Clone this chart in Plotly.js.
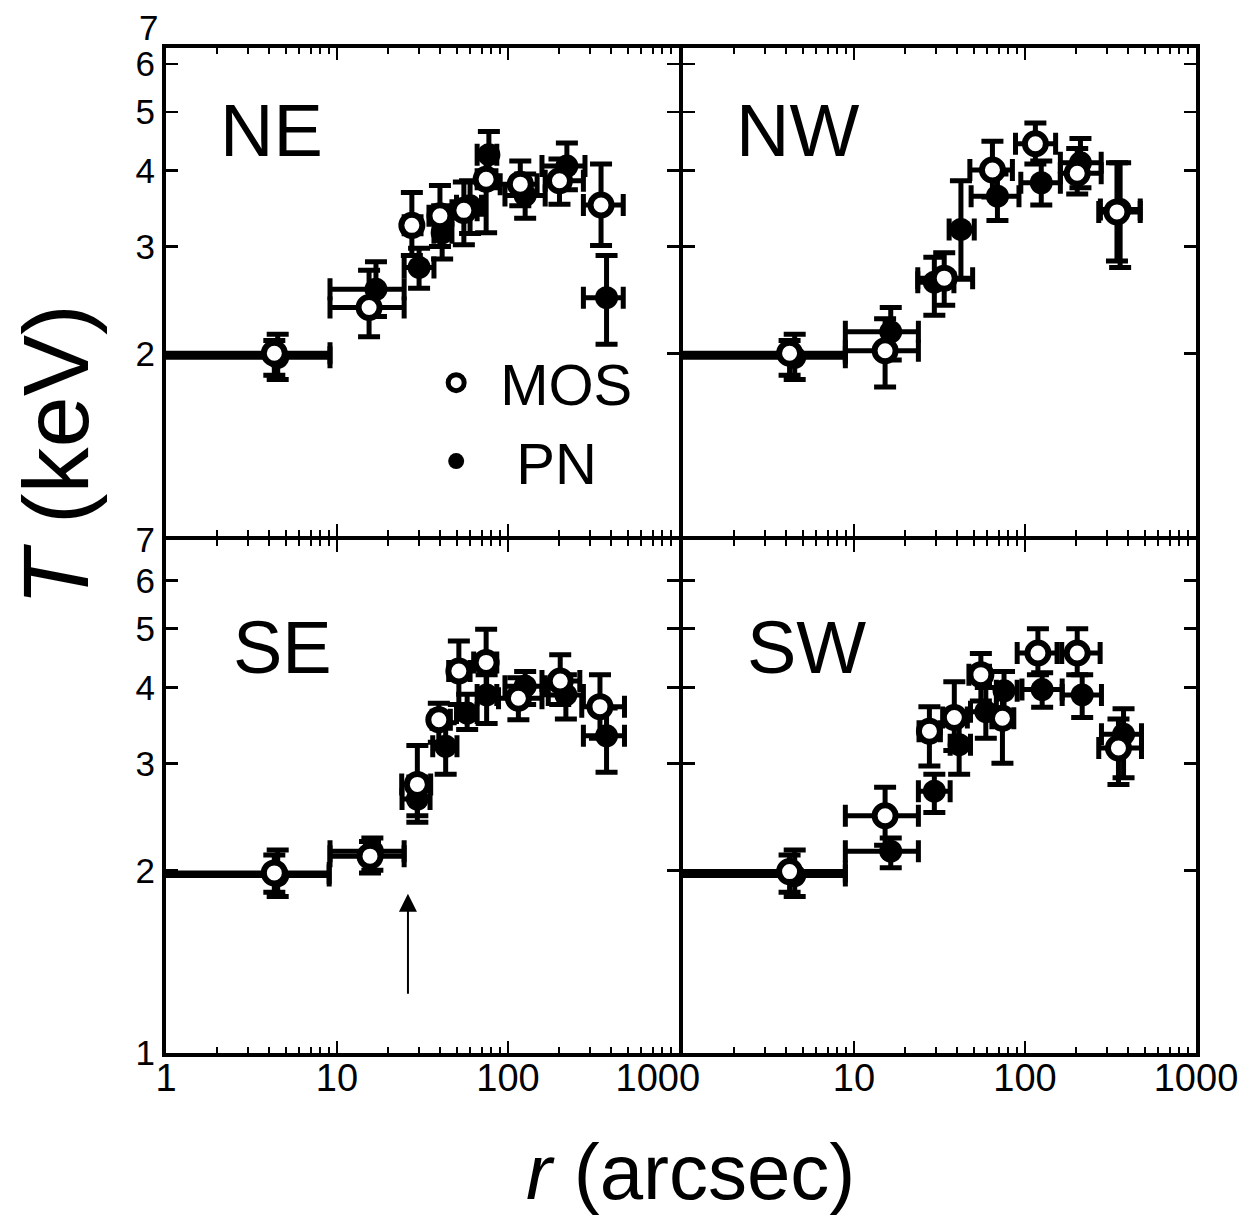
<!DOCTYPE html>
<html>
<head>
<meta charset="utf-8">
<script src="https://cdn.plot.ly/plotly-3.0.1.min.js"></script>
<style>html,body{margin:0;padding:0;background:#fff;}</style>
</head>
<body>
<div id="chart" style="width:1245px;height:1216px;"></div>
<script>
// ---------- DATA (r in arcsec, T in keV; bounds for error bars) ----------
// NE
const NE_mos_r   = [4.3, 15.4, 27.4, 40, 55.2, 74.5, 118, 200, 350];
const NE_mos_T   = [2.00, 2.38, 3.25, 3.37, 3.44, 3.87, 3.80, 3.85, 3.51];
const NE_mos_Tlo = [1.84, 2.13, 2.90, 3.00, 3.02, 3.16, 3.50, 3.52, 3.01];
const NE_mos_Thi = [2.10, 2.74, 3.68, 3.78, 3.83, 4.30, 4.15, 4.18, 4.10];
const NE_mos_rlo = [0, 9.1, 24.7, 34.5, 47, 66, 90, 165, 276];
const NE_mos_rhi = [9.1, 24.7, 31, 47, 66, 85, 148, 276, 472];
const NE_pn_r    = [4.5, 16.9, 30.2, 41.2, 60, 77.3, 126, 221, 377];
const NE_pn_T    = [1.97, 2.55, 2.77, 3.16, 3.50, 4.25, 3.64, 4.07, 2.47];
const NE_pn_Tlo  = [1.81, 2.30, 2.56, 2.86, 3.15, 3.85, 3.34, 3.72, 2.07];
const NE_pn_Thi  = [2.15, 2.83, 2.98, 3.50, 3.85, 4.64, 3.95, 4.44, 2.90];
const NE_pn_rlo  = [0, 9.1, 24.7, 36.9, 50, 66, 96, 158, 276];
const NE_pn_rhi  = [9.1, 24.7, 36.9, 47, 70, 86, 165, 282, 472];
// NW
const NW_mos_r   = [4.2, 15.2, 33.7, 64.5, 115, 202, 345];
const NW_mos_T   = [2.00, 2.02, 2.66, 4.01, 4.43, 3.96, 3.42];
const NW_mos_Tlo = [1.84, 1.76, 2.40, 3.62, 4.10, 3.66, 2.84];
const NW_mos_Thi = [2.10, 2.28, 2.93, 4.47, 4.79, 4.35, 4.12];
const NW_mos_rlo = [0, 8.9, 23.6, 47.6, 88, 161, 270];
const NW_mos_rhi = [8.9, 23.8, 49.4, 84.4, 151, 279, 472];
const NW_pn_r    = [4.5, 16.4, 29.5, 42.2, 69, 124.5, 211, 360];
const NW_pn_T    = [1.97, 2.17, 2.62, 3.20, 3.63, 3.82, 4.12, 3.45];
const NW_pn_Tlo  = [1.81, 1.95, 2.31, 2.65, 3.31, 3.51, 3.75, 2.77];
const NW_pn_Thi  = [2.15, 2.38, 2.88, 3.85, 3.95, 4.15, 4.52, 4.12];
const NW_pn_rlo  = [0, 8.9, 23.6, 36, 48.4, 94.5, 161, 276];
const NW_pn_rhi  = [8.9, 23.8, 38.4, 50.5, 92.2, 161, 279, 472];
// SE
const SE_mos_r   = [4.3, 15.6, 29.5, 39.4, 51.6, 74.5, 115, 202, 345];
const SE_mos_T   = [1.98, 2.11, 2.77, 3.54, 4.26, 4.40, 3.84, 4.10, 3.72];
const SE_mos_Tlo = [1.84, 1.98, 2.46, 3.25, 3.75, 3.90, 3.54, 3.75, 3.30];
const SE_mos_Thi = [2.12, 2.23, 3.21, 3.77, 4.77, 4.99, 4.15, 4.53, 4.20];
const SE_mos_rlo = [0, 9.1, 23.9, 36, 45, 63, 88, 158, 270];
const SE_mos_rhi = [9.0, 24.7, 35.3, 46, 60, 86, 158, 263, 480];
const SE_pn_r    = [4.5, 16.1, 29.5, 43.2, 57.7, 75, 126, 218, 377];
const SE_pn_T    = [1.96, 2.15, 2.62, 3.20, 3.63, 3.89, 4.02, 3.89, 3.33];
const SE_pn_Tlo  = [1.81, 2.00, 2.40, 2.88, 3.41, 3.49, 3.75, 3.55, 2.90];
const SE_pn_Thi  = [2.16, 2.26, 2.85, 3.50, 3.90, 4.20, 4.25, 4.20, 3.70];
const SE_pn_rlo  = [0, 9.1, 24, 36.3, 50, 66, 96, 172, 276];
const SE_pn_rhi  = [9.0, 24.7, 35, 50.3, 66, 86, 165, 276, 480];
// SW
const SW_mos_r   = [4.2, 15.2, 27.6, 38.6, 55.2, 73.8, 119, 202, 352];
const SW_mos_T   = [1.99, 2.46, 3.39, 3.57, 4.20, 3.56, 4.56, 4.56, 3.18];
const SW_mos_Tlo = [1.84, 2.20, 2.97, 3.15, 3.80, 3.00, 4.20, 4.20, 2.77];
const SW_mos_Thi = [2.12, 2.74, 3.72, 4.09, 4.55, 4.00, 5.00, 5.00, 3.55];
const SW_mos_rlo = [0, 8.9, 24, 33, 47, 64, 90, 164, 270];
const SW_mos_rhi = [8.9, 23.8, 32, 46, 62, 86, 154, 275, 480];
const SW_pn_r    = [4.5, 16.4, 29.5, 41.2, 59, 75.4, 126, 216, 377];
const SW_pn_T    = [1.96, 2.15, 2.70, 3.22, 3.65, 3.95, 3.97, 3.89, 3.35];
const SW_pn_Tlo  = [1.81, 2.02, 2.49, 2.88, 3.30, 3.65, 3.71, 3.57, 2.84];
const SW_pn_Thi  = [2.16, 2.26, 2.88, 3.55, 4.00, 4.25, 4.23, 4.20, 3.69];
const SW_pn_rlo  = [0, 8.9, 23.8, 36.5, 48, 68, 96, 165, 280];
const SW_pn_rhi  = [8.9, 23.8, 36.5, 48, 68, 90, 165, 280, 480];

const panelLabels = ['NE', 'NW', 'SE', 'SW'];
const seriesNames = ['MOS', 'PN'];
const xTickVals = [1, 10, 100, 1000];
const yTickVals = [1, 2, 3, 4, 5, 6, 7];
const arrowR = 26;            // arcsec, SE panel marker
const arrowT = [1.245, 1.83]; // keV, tail and head

// ---------- BUILD ----------
const sub = (a, b) => a.map((v, i) => v - b[i]);
const FONT = 'Liberation Sans, Arial, Helvetica, sans-serif';

function trace(r, T, Tlo, Thi, rlo, rhi, isMos, xa, ya, showlegend) {
  return {
    type: 'scatter', mode: 'markers', x: r, y: T, xaxis: xa, yaxis: ya,
    name: isMos ? seriesNames[0] : ' ' + seriesNames[1],
    legendrank: isMos ? 1 : 2,
    showlegend: showlegend, cliponaxis: true,
    marker: isMos
      ? {symbol: 'circle', size: 21, color: 'white', line: {color: 'black', width: 6}}
      : {symbol: 'circle', size: 23, color: 'black', line: {color: 'black', width: 0}},
    error_y: {type: 'data', symmetric: false, array: sub(Thi, T), arrayminus: sub(T, Tlo),
              color: 'black', thickness: 5, width: 11},
    error_x: {type: 'data', symmetric: false, array: sub(rhi, r), arrayminus: sub(r, rlo),
              color: 'black', thickness: 5, width: 11},
    hoverinfo: 'x+y'
  };
}

const data = [
  trace(NE_pn_r, NE_pn_T, NE_pn_Tlo, NE_pn_Thi, NE_pn_rlo, NE_pn_rhi, false, 'x3', 'y3', true),
  trace(NE_mos_r, NE_mos_T, NE_mos_Tlo, NE_mos_Thi, NE_mos_rlo, NE_mos_rhi, true, 'x3', 'y3', true),
  trace(NW_pn_r, NW_pn_T, NW_pn_Tlo, NW_pn_Thi, NW_pn_rlo, NW_pn_rhi, false, 'x4', 'y4', false),
  trace(NW_mos_r, NW_mos_T, NW_mos_Tlo, NW_mos_Thi, NW_mos_rlo, NW_mos_rhi, true, 'x4', 'y4', false),
  trace(SE_pn_r, SE_pn_T, SE_pn_Tlo, SE_pn_Thi, SE_pn_rlo, SE_pn_rhi, false, 'x', 'y', false),
  trace(SE_mos_r, SE_mos_T, SE_mos_Tlo, SE_mos_Thi, SE_mos_rlo, SE_mos_rhi, true, 'x', 'y', false),
  trace(SW_pn_r, SW_pn_T, SW_pn_Tlo, SW_pn_Thi, SW_pn_rlo, SW_pn_rhi, false, 'x2', 'y2', false),
  trace(SW_mos_r, SW_mos_T, SW_mos_Tlo, SW_mos_Thi, SW_mos_rlo, SW_mos_rhi, true, 'x2', 'y2', false)
];

const minorVals = [];
[1, 10, 100].forEach(d => { for (let k = 2; k <= 9; k++) minorVals.push(k * d); });

// plot area 1030 x 1005 px; panels share a 4px frame line
const PW = 1030, PH = 1005, LW = 4;
const xLeft = [0, (515 - LW / 2) / PW], xRight = [(515 + LW / 2) / PW, 1];
const yBottom = [0, (515 - LW / 2) / PH], yTop = [(515 + LW / 2) / PH, 1];
const yRangeBottom = [0, Math.log10(7)];
const yRangeTop = [0, 0.8041];

function xAxis(domain, anchor, labels, labelVals, labelText) {
  return {
    type: 'log', domain: domain, anchor: anchor, range: [0, 3],
    showline: true, linewidth: LW, linecolor: 'black', mirror: 'allticks',
    showgrid: false, zeroline: false,
    ticks: 'inside', ticklen: 12, tickwidth: 2.5, tickcolor: 'black',
    tickmode: 'array', tickvals: labelVals, ticktext: labelText || labelVals.map(String),
    showticklabels: labels, ticklabelstandoff: -12,
    tickfont: {family: FONT, size: 38, color: 'black'},
    minor: {ticks: 'inside', ticklen: 6, tickwidth: 2, tickcolor: 'black', tickmode: 'array', tickvals: minorVals, showgrid: false}
  };
}
function yAxis(domain, anchor, range, labels, vals) {
  return {
    type: 'log', domain: domain, anchor: anchor, range: range,
    showline: true, linewidth: LW, linecolor: 'black', mirror: 'allticks',
    showgrid: false, zeroline: false,
    ticks: 'inside', ticklen: 12, tickwidth: 2.5, tickcolor: 'black',
    tickmode: 'array', tickvals: vals, ticktext: vals.map(String),
    showticklabels: labels,
    tickfont: {family: FONT, size: 35, color: 'black'}
  };
}

const topLabelY = yTop[0] + (Math.log10(7) / yRangeTop[1]) * (yTop[1] - yTop[0]);
const leftXText = xTickVals.map(String);
leftXText[3] = leftXText[3] + '\u2007\u2007';

const labelFont = {family: FONT, size: 74, color: 'black'};
const A = {showarrow: false, xanchor: 'center', yanchor: 'middle'};
const layout = {
  width: 1245, height: 1216,
  margin: {l: 166, r: 49, t: 48, b: 163, pad: 0},
  paper_bgcolor: 'white', plot_bgcolor: 'white',
  font: {family: FONT, color: 'black'},
  showlegend: true,
  legend: {x: 0.239, y: 0.711, xanchor: 'left', yanchor: 'top',
           font: {family: FONT, size: 58, color: 'black'},
           bgcolor: 'rgba(0,0,0,0)', borderwidth: 0, itemwidth: 78, tracegroupgap: 0},
  xaxis: xAxis(xLeft, 'y', true, xTickVals, leftXText),
  yaxis: yAxis(yBottom, 'x', yRangeBottom, true, yTickVals),
  xaxis2: xAxis(xRight, 'y2', true, xTickVals.slice(1)),
  yaxis2: yAxis(yBottom, 'x2', yRangeBottom, false, yTickVals),
  xaxis3: xAxis(xLeft, 'y3', false, xTickVals),
  yaxis3: yAxis(yTop, 'x3', yRangeTop, true, yTickVals.slice(1)),
  xaxis4: xAxis(xRight, 'y4', false, xTickVals),
  yaxis4: yAxis(yTop, 'x4', yRangeTop, false, yTickVals),
  annotations: [
    Object.assign({xref: 'x3 domain', yref: 'y3 domain', x: 0.206, y: 0.83, text: panelLabels[0], font: labelFont}, A),
    Object.assign({xref: 'x4 domain', yref: 'y4 domain', x: 0.223, y: 0.83, text: panelLabels[1], font: labelFont}, A),
    Object.assign({xref: 'x domain', yref: 'y domain', x: 0.227, y: 0.79, text: panelLabels[2], font: labelFont}, A),
    Object.assign({xref: 'x2 domain', yref: 'y2 domain', x: 0.241, y: 0.79, text: panelLabels[3], font: labelFont}, A),
    {xref: 'paper', yref: 'paper', x: 0, y: topLabelY, xanchor: 'right', yanchor: 'middle', xshift: -6, yshift: -4,
     text: String(yTickVals[6]), showarrow: false, font: {family: FONT, size: 35, color: 'black'}},
    Object.assign({xref: 'paper', yref: 'paper', x: -0.107, y: 0.595, textangle: -90, text: '<i>T</i> (keV)',
     font: {family: FONT, size: 92, color: 'black'}}, A),
    Object.assign({xref: 'paper', yref: 'paper', x: 0.509, y: -0.118, text: '<i>r</i> (arcsec)',
     font: {family: FONT, size: 78, color: 'black'}}, A),
    {xref: 'x', yref: 'y', axref: 'x', ayref: 'y',
     x: Math.log10(arrowR), y: Math.log10(arrowT[1]), ax: Math.log10(arrowR), ay: Math.log10(arrowT[0]),
     text: '', showarrow: true, arrowhead: 2, arrowwidth: 2, arrowsize: 1.8, arrowcolor: 'black'}
  ]
};

Plotly.newPlot('chart', data, layout, {displayModeBar: false, staticPlot: true});
</script>
</body>
</html>
